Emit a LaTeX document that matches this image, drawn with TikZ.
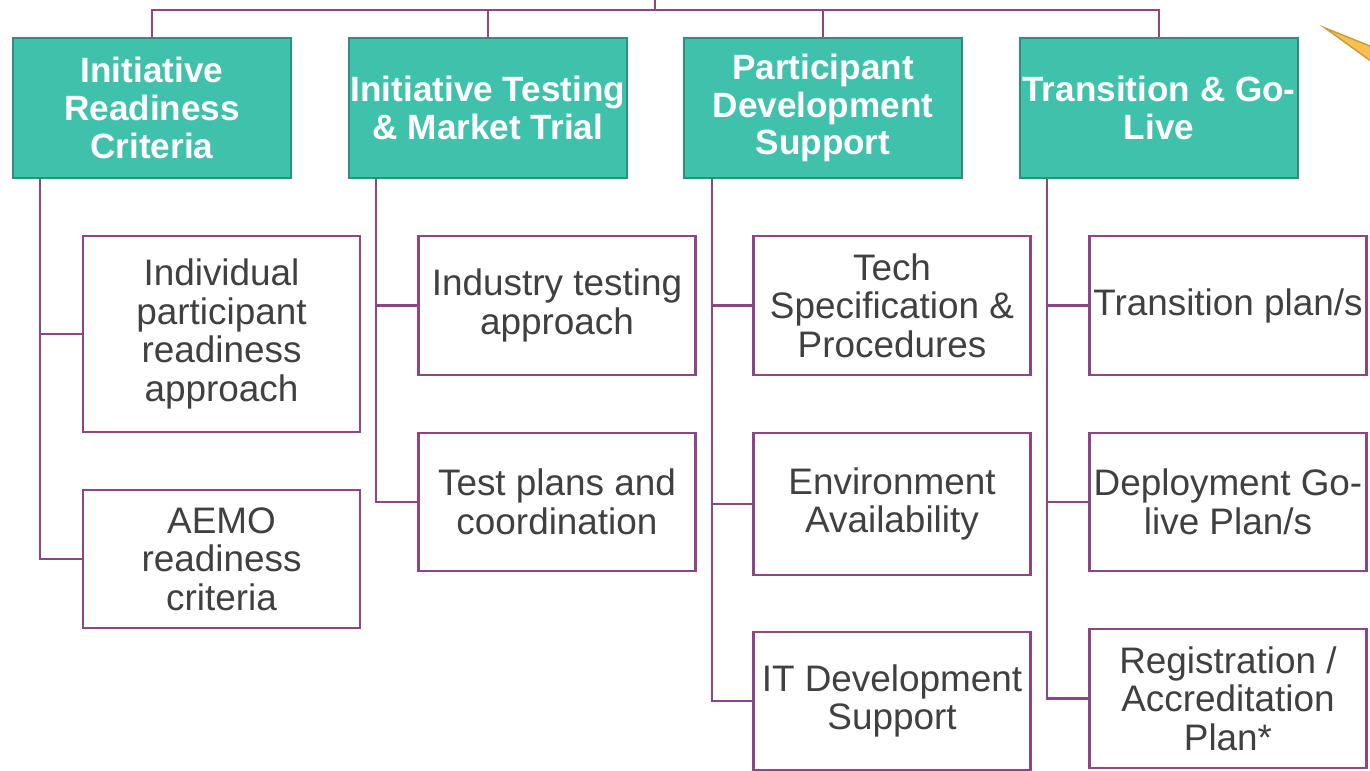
\documentclass[tikz,border=0pt]{standalone}
\usepackage{fontspec}
\setmainfont{Liberation Sans}
\usepackage{tikz}
\usetikzlibrary{calc}

\definecolor{tealfill}{HTML}{40C1AB}
\definecolor{tealedge}{HTML}{2E8F7D}
\definecolor{plum}{HTML}{8E4585}
\definecolor{greytext}{HTML}{404040}
\definecolor{goldfill}{HTML}{FBBF4E}
\definecolor{goldedge}{HTML}{C99A3C}

\begin{document}
\begin{tikzpicture}[x=0.02cm, y=-0.02cm,
    head/.style={draw=tealedge, fill=tealfill, line width=1.3pt, text=white, align=center,
        minimum width=5.56cm, minimum height=2.8cm, inner sep=0pt,
        font=\fontsize{20}{21.5}\selectfont\bfseries},
    item/.style={draw=plum, fill=white, line width=1.3pt, text=greytext, align=center,
        minimum width=5.54cm, inner sep=0pt, font=\fontsize{21}{22}\selectfont},
    link/.style={draw=plum, line width=1.3pt}]
    \useasboundingbox (0,0) rectangle (1370,771);

    % Header boxes
    \node[head] (h1) at (152,108) {Initiative\\Readiness\\Criteria};
    \node[head] (h2) at (488,108) {Initiative Testing\\\& Market Trial};
    \node[head] (h3) at (823,108) {Participant\\Development\\Support};
    \node[head] (h4) at (1159,108) {Transition \& Go-\\Live};

    % Top bar
    \coordinate (top) at (655,0);
    \draw[link] (top) -- ++(0,10) -| (h1.north);
    \draw[link] (top) -- ++(0,10) -| (h2.north);
    \draw[link] (top) -- ++(0,10) -| (h3.north);
    \draw[link] (top) -- ++(0,10) -| (h4.north);

    % Readiness items
    \node[item, minimum height=3.92cm] (c11) at (221.5,334) {Individual\\participant\\readiness\\approach};
    \node[item, minimum height=2.76cm] (c12) at (221.5,559) {AEMO\\readiness\\criteria};

    % Testing items
    \node[item, minimum height=2.78cm] (c21) at (557,305.5) {Industry testing\\approach};
    \node[item, minimum height=2.76cm] (c22) at (557,502) {Test plans and\\coordination};

    % Development items
    \node[item, minimum height=2.78cm] (c31) at (892,305.5) {Tech\\Specification \&\\Procedures};
    \node[item, minimum height=2.84cm] (c32) at (892,504) {Environment\\Availability};
    \node[item, minimum height=2.76cm] (c33) at (892,701) {IT Development\\Support};

    % Go-live items
    \node[item, minimum height=2.78cm] (c41) at (1228,305.5) {Transition plan/s};
    \node[item, minimum height=2.76cm] (c42) at (1228,502) {Deployment Go-\\live Plan/s};
    \node[item, minimum height=2.78cm] (c43) at (1228,698.5) {Registration /\\Accreditation\\Plan*};

    % Trunks
    \draw[link] ($(h1.south west)+(28,0)$) |- (c11.west);
    \draw[link] ($(h1.south west)+(28,0)$) |- (c12.west);
    \draw[link] ($(h2.south west)+(28,0)$) |- (c21.west);
    \draw[link] ($(h2.south west)+(28,0)$) |- (c22.west);
    \draw[link] ($(h3.south west)+(29,0)$) |- (c31.west);
    \draw[link] ($(h3.south west)+(29,0)$) |- (c32.west);
    \draw[link] ($(h3.south west)+(29,0)$) |- (c33.west);
    \draw[link] ($(h4.south west)+(28,0)$) |- (c41.west);
    \draw[link] ($(h4.south west)+(28,0)$) |- (c42.west);
    \draw[link] ($(h4.south west)+(28,0)$) |- (c43.west);

    % Gold wedge at the edge
    \draw[goldedge, fill=goldfill, line width=0.8pt] (1325,28) -- (1375,48) -- (1375,64) -- cycle;
\end{tikzpicture}
\end{document}
